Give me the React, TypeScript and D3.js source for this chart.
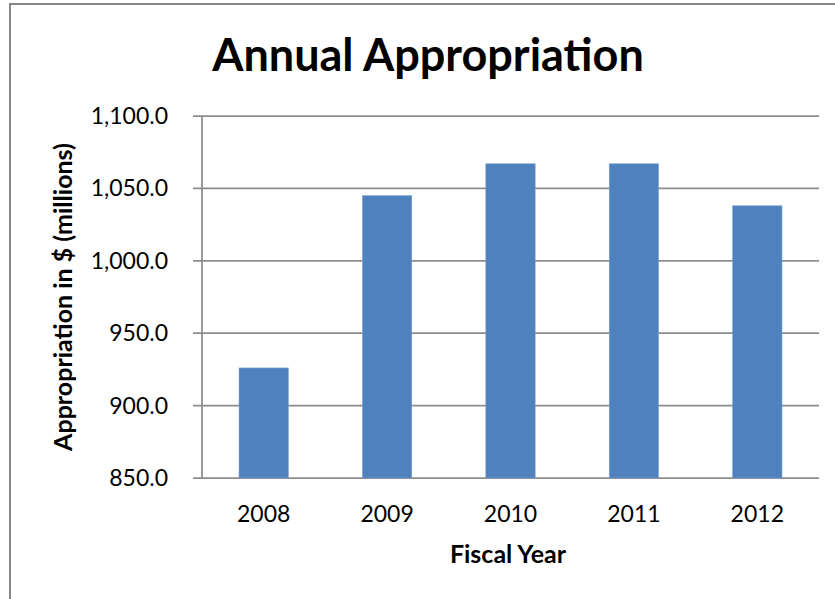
import React from "react";
import * as d3 from "d3";

const years: string[] = ["2008", "2009", "2010", "2011", "2012"];
const appropriation: number[] = [926, 1045, 1067, 1067, 1038];
const yTicks: number[] = [850, 900, 950, 1000, 1050, 1100];

const W = 835;
const H = 599;
const M = { left: 202, right: 819, top: 116, bottom: 478 };
const FONT = "Lato, 'Noto Sans', sans-serif";

export default function App() {
  const x = d3
    .scaleBand<string>()
    .domain(years)
    .range([M.left, M.right])
    .paddingInner(0.6)
    .paddingOuter(0.3);
  const y = d3.scaleLinear().domain([850, 1100]).range([M.bottom, M.top]);
  const fmt = d3.format(",.1f");

  return (
    <svg
      width={W}
      height={H}
      style={{ position: "absolute", left: 0, top: 0, background: "#fff" }}
    >
      <rect x={0} y={0} width={W} height={H} fill="#fff" />
      {/* outer chart border */}
      <path
        d={`M10,${H + 5} L10,4 L${W + 5},4`}
        fill="none"
        stroke="#878787"
        strokeWidth={2}
      />
      {/* title */}
      <text
        x={428}
        y={71}
        textAnchor="middle"
        fontFamily={FONT}
        fontWeight="bold"
        fontSize={45}
        fill="#000"
      >
        Annual Appropriation
      </text>
      {/* gridlines */}
      {yTicks.map((t) => (
        <line
          key={t}
          x1={M.left - 9}
          x2={M.right}
          y1={y(t)}
          y2={y(t)}
          stroke="#8c8c8c"
          strokeWidth={1.75}
        />
      ))}
      {/* y axis line */}
      <line
        x1={M.left}
        x2={M.left}
        y1={M.top}
        y2={M.bottom}
        stroke="#8c8c8c"
        strokeWidth={1.75}
      />
      {/* bars */}
      {years.map((yr, i) => (
        <rect
          key={yr}
          x={x(yr)}
          y={y(appropriation[i])}
          width={x.bandwidth()}
          height={M.bottom - y(appropriation[i])}
          fill="#4f81bd"
          stroke="#7da3d6"
          strokeWidth={0.6}
        />
      ))}
      {/* y tick labels */}
      {yTicks.map((t) => (
        <text
          key={t}
          x={168}
          y={y(t) + 8}
          textAnchor="end"
          fontFamily={FONT}
          fontSize={23}
          fill="#000"
        >
          {fmt(t)}
        </text>
      ))}
      {/* x tick labels */}
      {years.map((yr) => (
        <text
          key={yr}
          x={(x(yr) as number) + x.bandwidth() / 2}
          y={522}
          textAnchor="middle"
          fontFamily={FONT}
          fontSize={23}
          fill="#000"
        >
          {yr}
        </text>
      ))}
      {/* axis titles */}
      <text
        x={508}
        y={563}
        textAnchor="middle"
        fontFamily={FONT}
        fontWeight="bold"
        fontSize={25}
        fill="#000"
      >
        Fiscal Year
      </text>
      <text
        transform={`translate(72,${(M.top + M.bottom) / 2}) rotate(-90)`}
        textAnchor="middle"
        fontFamily={FONT}
        fontWeight="bold"
        fontSize={25}
        fill="#000"
      >
        Appropriation in $ (millions)
      </text>
    </svg>
  );
}
